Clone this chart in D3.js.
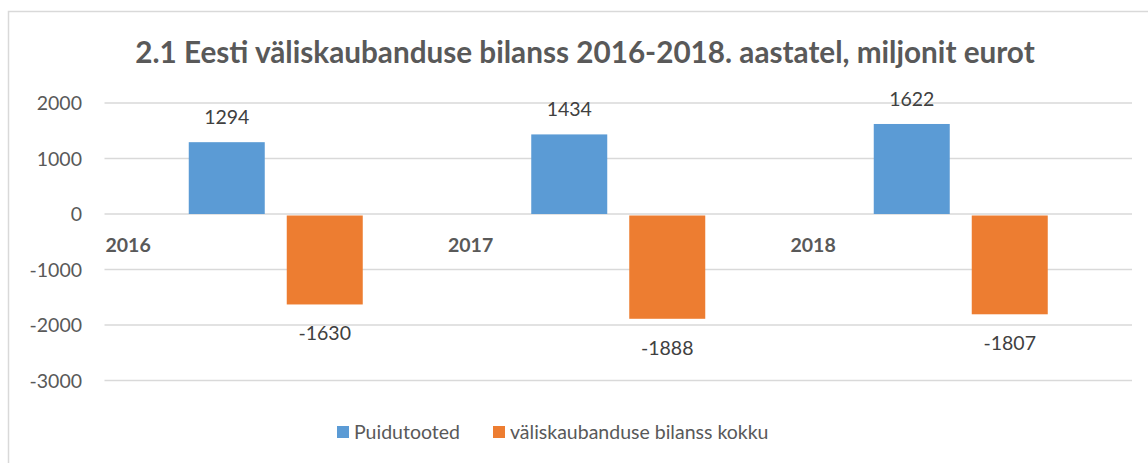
<!DOCTYPE html>
<html>
<head>
<meta charset="utf-8">
<script src="https://cdn.jsdelivr.net/npm/d3@7"></script>
<style>
  body { margin: 0; background: #fff; }
  svg { display: block; font-family: Lato, "Open Sans", sans-serif; }
</style>
</head>
<body>
<div id="chart"></div>
<script>
const years = ['2016', '2017', '2018'];
const seriesNames = ['Puidutooted', 'väliskaubanduse bilanss kokku'];
const puidutooted = [1294, 1434, 1622];
const bilanss = [-1630, -1888, -1807];
const yTicks = [2000, 1000, 0, -1000, -2000, -3000];
const colors = ['#5B9BD5', '#ED7D31'];
const title = '2.1 Eesti väliskaubanduse bilanss 2016-2018. aastatel, miljonit eurot';

const width = 1148, height = 463;
const textColor = '#595959';

const svg = d3.select('#chart').append('svg')
    .attr('width', width)
    .attr('height', height);

// chart area border (right/bottom edges run off the picture)
svg.append('rect')
    .attr('x', 8.5).attr('y', 11.5)
    .attr('width', width).attr('height', height)
    .attr('fill', 'none')
    .attr('stroke', '#D9D9D9')
    .attr('stroke-width', 1.5);

// title
svg.append('text')
    .attr('x', 585).attr('y', 63)
    .attr('text-anchor', 'middle')
    .attr('font-size', 29.7)
    .attr('font-weight', 'bold')
    .attr('fill', textColor)
    .text(title);

const plot = { left: 104.5, right: 1132, top: 103, bottom: 380.5 };

const y = d3.scaleLinear()
    .domain([-3000, 2000])
    .range([plot.bottom, plot.top]);

const x0 = d3.scaleBand()
    .domain(years)
    .range([plot.left, plot.right]);

// bars are 76px with a 22px gap inside a 342px category
const x1 = d3.scaleBand()
    .domain(seriesNames)
    .range([x0.bandwidth() / 2 - 87, x0.bandwidth() / 2 + 87])
    .paddingInner(22 / 98);

// gridlines
svg.append('g')
    .selectAll('line')
    .data(yTicks)
    .join('line')
    .attr('x1', plot.left).attr('x2', plot.right)
    .attr('y1', d => y(d)).attr('y2', d => y(d))
    .attr('stroke', '#D9D9D9')
    .attr('stroke-width', 1.5);

// y tick labels, plain integers with a hyphen minus
const yAxis = d3.axisLeft(y)
    .tickValues(yTicks)
    .tickFormat(d => String(d))
    .tickSize(0)
    .tickPadding(0);
svg.append('g')
    .attr('transform', 'translate(82,0)')
    .call(yAxis)
    .call(g => g.select('.domain').remove())
    .call(g => g.selectAll('text')
        .attr('font-size', 19.5)
        .attr('font-family', 'Lato, "Open Sans", sans-serif')
        .attr('fill', textColor)
        .attr('dy', '0.35em'));

// bars
const groups = svg.append('g')
    .selectAll('g')
    .data(years.map((yr, i) => ({ year: yr, values: [puidutooted[i], bilanss[i]] })))
    .join('g')
    .attr('transform', d => `translate(${x0(d.year)},0)`);

groups.selectAll('rect')
    .data(d => d.values.map((v, j) => ({ name: seriesNames[j], value: v, j })))
    .join('rect')
    .attr('x', d => x1(d.name))
    .attr('width', x1.bandwidth())
    .attr('y', d => d.value >= 0 ? y(d.value) : y(0) + 1.5)
    .attr('height', d => d.value >= 0 ? y(0) - y(d.value) : y(d.value) - y(0) - 1.5)
    .attr('fill', d => colors[d.j]);

// value labels
groups.selectAll('text.val')
    .data(d => d.values.map((v, j) => ({ name: seriesNames[j], value: v })))
    .join('text')
    .attr('class', 'val')
    .attr('x', d => x1(d.name) + x1.bandwidth() / 2)
    .attr('y', d => d.value >= 0 ? y(d.value) - 25 : y(d.value) + 29)
    .attr('dy', '0.35em')
    .attr('text-anchor', 'middle')
    .attr('font-size', 19.5)
    .attr('fill', '#404040')
    .text(d => d.value);

// category labels (sit just below zero, at the left of each category)
groups.append('text')
    .attr('x', 1)
    .attr('y', y(0) + 31.5)
    .attr('dy', '0.35em')
    .attr('font-size', 19.5)
    .attr('font-weight', 'bold')
    .attr('fill', textColor)
    .text(d => d.year);

// legend
const legendItems = [
    { name: seriesNames[0], color: colors[0], x: 337 },
    { name: seriesNames[1], color: colors[1], x: 493 }
];
const legend = svg.append('g')
    .selectAll('g')
    .data(legendItems)
    .join('g')
    .attr('transform', d => `translate(${d.x},426)`);
legend.append('rect')
    .attr('width', 12).attr('height', 12)
    .attr('fill', d => d.color);
legend.append('text')
    .attr('x', 17).attr('y', 6.5)
    .attr('dy', '0.35em')
    .attr('font-size', 19.5)
    .attr('fill', textColor)
    .text(d => d.name);
</script>
</body>
</html>
